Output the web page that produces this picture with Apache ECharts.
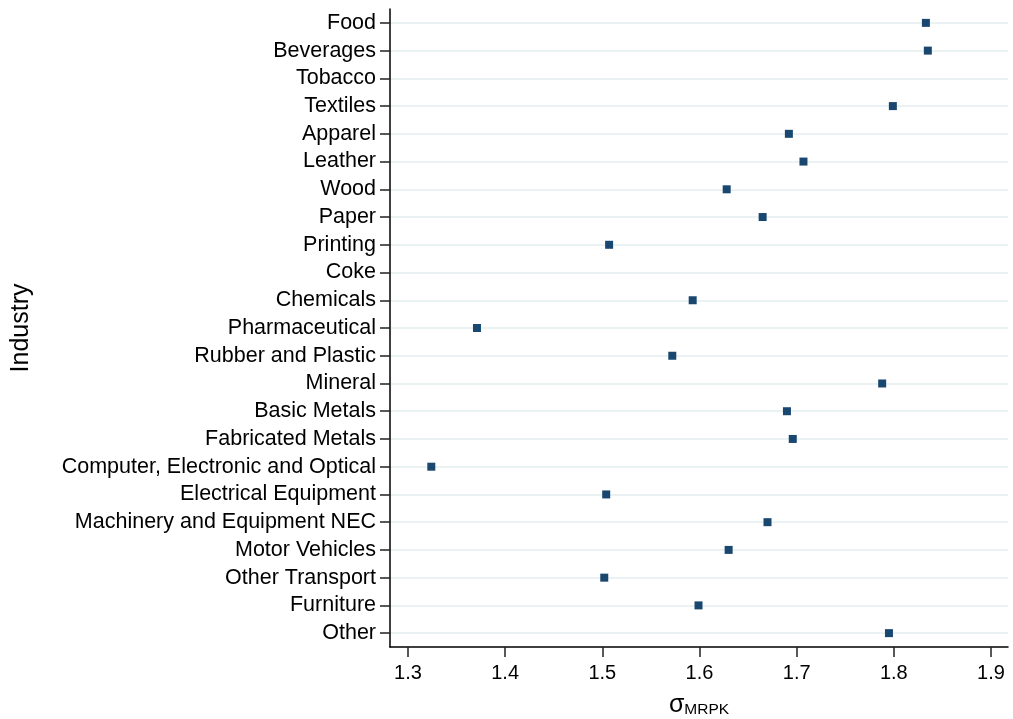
<!DOCTYPE html>
<html>
<head>
<meta charset="utf-8">
<script src="https://cdn.jsdelivr.net/npm/echarts@6/dist/echarts.min.js"></script>
<style>html,body{margin:0;padding:0;background:#fff}#c{width:1013px;height:719px}</style>
</head>
<body>
<div id="c"></div>
<script>
var categories = ["Food","Beverages","Tobacco","Textiles","Apparel","Leather","Wood","Paper","Printing","Coke","Chemicals","Pharmaceutical","Rubber and Plastic","Mineral","Basic Metals","Fabricated Metals","Computer, Electronic and Optical","Electrical Equipment","Machinery and Equipment NEC","Motor Vehicles","Other Transport","Furniture","Other"];
var sigmaMRPK = [1.833,1.835,null,1.799,1.692,1.707,1.628,1.665,1.507,null,1.593,1.371,1.572,1.788,1.690,1.696,1.324,1.504,1.670,1.630,1.502,1.599,1.795];
var xTicks = [1.3,1.4,1.5,1.6,1.7,1.8,1.9];

var chart = echarts.init(document.getElementById('c'));
var font = 'Liberation Sans, Arial, sans-serif';
chart.setOption({
  animation: false,
  grid: {left: 390, right: 5, top: 9, bottom: 72, outerBoundsMode: 'none', containLabel: false},
  xAxis: {
    type: 'value', min: 1.2815, max: 1.9175,
    axisLine: {show: true, lineStyle: {color: '#000', width: 1.5}},
    axisTick: {show: true, length: 10, customValues: xTicks, lineStyle: {color: '#222', width: 1.5}},
    axisLabel: {customValues: xTicks, color: '#000', fontSize: 20, fontFamily: font, margin: 16,
      formatter: function(v){ return v.toFixed(1); }},
    splitLine: {show: false},
    name: '{s|σ}{sub|MRPK}', nameLocation: 'middle', nameGap: 46,
    nameTextStyle: {rich: {
      s: {fontSize: 25, fontFamily: font, color: '#000'},
      sub: {fontSize: 15.5, fontFamily: font, color: '#000', verticalAlign: 'bottom', padding: [9,0,0,0]}
    }}
  },
  yAxis: {
    type: 'category', data: categories, inverse: true, boundaryGap: true,
    axisLine: {show: true, lineStyle: {color: '#000', width: 1.5}},
    axisTick: {show: true, alignWithLabel: true, length: 10, lineStyle: {color: '#222', width: 1.5}},
    axisLabel: {color: '#000', fontSize: 21.5, fontFamily: font, margin: 14, interval: 0},
    splitLine: {show: false},
    name: 'Industry', nameLocation: 'middle', nameGap: 356, nameRotate: 90,
    nameTextStyle: {fontSize: 25, fontFamily: font, color: '#000'}
  },
  series: [
    {
      type: 'scatter', data: [], z: 1, silent: true,
      markLine: {
        silent: true, symbol: 'none', label: {show: false}, animation: false, z: 0,
        lineStyle: {color: '#eaf2f3', width: 2, type: 'solid'},
        data: categories.map(function(c){ return {yAxis: c}; })
      }
    },
    {
      type: 'scatter', z: 10,
      symbol: 'rect', symbolSize: 8,
      itemStyle: {color: '#1a476f', opacity: 1},
      data: sigmaMRPK.map(function(v, i){ return v === null ? null : [v, categories[i]]; }).filter(function(d){ return d; })
    }
  ]
});
</script>
</body>
</html>
